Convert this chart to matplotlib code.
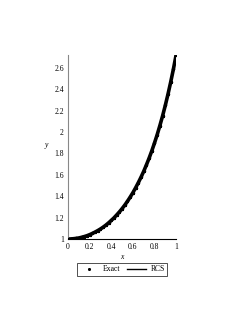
import matplotlib.pyplot as plt

plt.rcParams['font.family'] = ['Liberation Serif', 'DejaVu Serif']

# values
x = [0.0, 0.025, 0.05, 0.075, 0.1, 0.125, 0.15, 0.175, 0.2, 0.225,
     0.25, 0.275, 0.3, 0.325, 0.35, 0.375, 0.4, 0.425, 0.45, 0.475,
     0.5, 0.525, 0.55, 0.575, 0.6, 0.625, 0.65, 0.675, 0.7, 0.725,
     0.75, 0.775, 0.8, 0.825, 0.85, 0.875, 0.9, 0.925, 0.95, 0.975, 1.0]
y_exact = [1.000, 1.001, 1.003, 1.006, 1.010, 1.016, 1.023, 1.031, 1.041, 1.052,
           1.065, 1.079, 1.094, 1.111, 1.130, 1.151, 1.174, 1.198, 1.225, 1.253,
           1.284, 1.317, 1.353, 1.392, 1.433, 1.478, 1.526, 1.577, 1.632, 1.692,
           1.755, 1.823, 1.897, 1.975, 2.060, 2.150, 2.248, 2.353, 2.466, 2.587, 2.718]
y_rcs = y_exact[:]

xticks = [0, 0.2, 0.4, 0.6, 0.8, 1]
yticks = [1, 1.2, 1.4, 1.6, 1.8, 2, 2.2, 2.4, 2.6]

fig = plt.figure(figsize=(2.53, 3.27), dpi=100)
ax = fig.add_axes([0.269, 0.269, 0.427, 0.563])

ax.plot(x, y_rcs, color='black', lw=2.6, label='RCS', zorder=2)
ax.plot(x, y_exact, ls='none', marker='*', ms=2.2, color='black', label='Exact', zorder=3)

ax.set_xlim(0, 1)
ax.set_ylim(1, 2.72)
ax.set_xticks(xticks)
ax.set_xticklabels([f'{t:g}' for t in xticks])
ax.set_yticks(yticks)
ax.set_yticklabels([f'{t:g}' for t in yticks])
ax.tick_params(length=0, labelsize=5.5, pad=3)

for s in ['top', 'right']:
    ax.spines[s].set_visible(False)
ax.spines['left'].set_color('#888888')
ax.spines['left'].set_linewidth(0.8)
ax.spines['bottom'].set_color('black')
ax.spines['bottom'].set_linewidth(0.8)

ax.set_xlabel('x', fontsize=5.5, style='italic', labelpad=1)
ax.set_ylabel('y', fontsize=5.5, style='italic', rotation=0)
ax.yaxis.set_label_coords(-0.2, 0.49)

h, l = ax.get_legend_handles_labels()
leg = ax.legend(h[::-1], l[::-1], loc='upper center', bbox_to_anchor=(0.5, -0.11),
                ncol=2, fontsize=5.5, frameon=True, fancybox=False,
                edgecolor='black', handlelength=2.5, columnspacing=0.8,
                borderpad=0.3, handletextpad=0.6, markerscale=0.8)
leg.get_frame().set_linewidth(0.6)
leg.get_lines()[1].set_linewidth(1.0)

fig.savefig('out.png', dpi=100)
